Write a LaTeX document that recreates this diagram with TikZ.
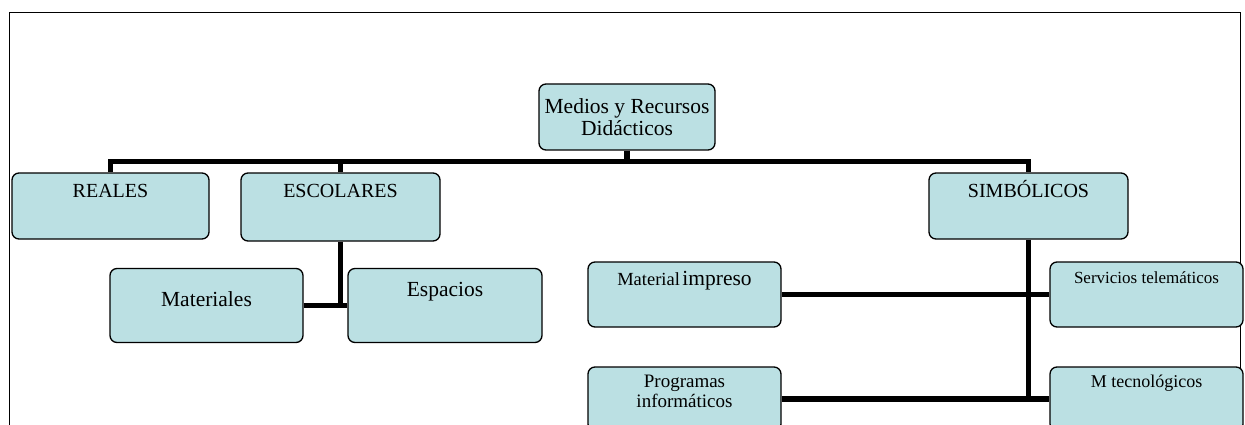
\documentclass[tikz,border=0pt]{standalone}
\usepackage{fontspec}
\setmainfont{Liberation Serif}
\definecolor{boxfill}{RGB}{187,224,227}
\tikzset{
  box/.style={draw, fill=boxfill, rounded corners=7pt, line width=1.3pt, inner sep=0pt, minimum width=193pt, align=center},
  conn/.style={line width=5.5pt},
}
\begin{document}
\begin{tikzpicture}[x=1pt,y=-1pt]
	\useasboundingbox (0,0) rectangle (1245,425);
	% frame
	\draw[line width=1pt] (9,440) -- (9,13) -- (1240,13) -- (1240,440);
	% top
	\node[box, minimum width=176pt, minimum height=66pt, font=\fontsize{21.5}{22}\selectfont] (medios) at (627,117) {Medios y Recursos\\Didácticos};
	% first level
	\node[box, minimum width=197pt, text height=24pt, text depth=42pt, font=\fontsize{20}{22}\selectfont] (reales) at (110.5,206) {REALES};
	\node[box, minimum width=199pt, text height=24pt, text depth=44pt, font=\fontsize{20}{22}\selectfont] (escolares) at (340.5,207) {ESCOLARES};
	\node[box, minimum width=199pt, text height=24pt, text depth=42pt, font=\fontsize{20}{22}\selectfont] (simbolicos) at (1028.5,206) {SIMBÓLICOS};
	% escolares
	\node[box, text height=37.5pt, text depth=36.5pt, font=\fontsize{21.5}{22}\selectfont] (materiales) at (206.5,305.5) {Materiales};
	\node[box, minimum width=194pt, text height=27.5pt, text depth=46.5pt, font=\fontsize{21.5}{22}\selectfont] (espacios) at (445,305.5) {Espacios};
	% simbolicos
	\node[box, text height=23pt, text depth=42pt] (impreso) at (684.5,294.5) {{\fontsize{18.5}{22}\selectfont Material} {\fontsize{21.5}{22}\selectfont impreso}};
	\node[box, text height=21pt, text depth=44pt, font=\fontsize{17}{20}\selectfont] (servicios) at (1146.5,294.5) {Servicios telemáticos};
	\node[box, text height=40pt, text depth=24pt, font=\fontsize{19}{19.5}\selectfont] (programas) at (684.5,399) {Programas\\informáticos};
	\node[box, text height=20pt, text depth=44pt, font=\fontsize{18}{20}\selectfont] (tecnologicos) at (1146.5,399) {M tecnológicos};
	% connectors
	\coordinate (bar) at (0,161.5);
	\draw[conn] (reales.north) -- (reales.north |- bar) -- (simbolicos.north |- bar) -- (simbolicos.north);
	\draw[conn] (medios.south) -- (medios.south |- bar);
	\draw[conn] (escolares.north) -- (escolares.north |- bar);
	\draw[conn] (escolares.south) -- (escolares.south |- materiales.east);
	\draw[conn] (materiales.east) -- (espacios.west);
	\draw[conn] (simbolicos.south) -- (simbolicos.south |- tecnologicos.west);
	\draw[conn] (impreso.east) -- (servicios.west);
	\draw[conn] (programas.east) -- (tecnologicos.west);
\end{tikzpicture}
\end{document}
